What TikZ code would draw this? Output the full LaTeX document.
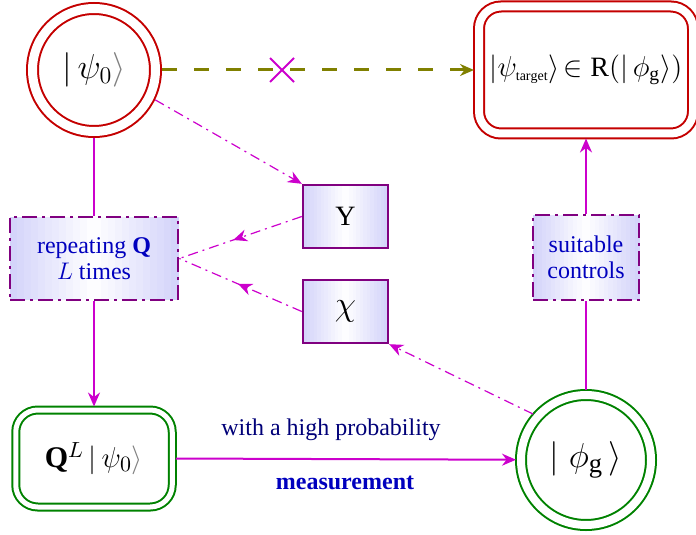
\documentclass[tikz,border=0pt]{standalone}
\usepackage{fontspec}
\setmainfont{Liberation Serif}
\usetikzlibrary{arrows.meta,shapes.misc,decorations.markings}
\definecolor{ringred}{RGB}{196,0,0}
\definecolor{ringgreen}{RGB}{0,130,0}
\definecolor{linemag}{RGB}{204,0,204}
\definecolor{boxpurple}{RGB}{128,0,128}
\definecolor{olivedash}{RGB}{128,128,0}
\definecolor{lavender}{RGB}{212,212,250}
\definecolor{textblue}{RGB}{0,0,190}
\definecolor{textnavy}{RGB}{0,0,120}
\newcommand\lavshade[4]{%
  \foreach \i in {0,...,23}{%
    \pgfmathsetmacro\mix{abs(\i-11.5)/11.5*100}%
    \fill[lavender!\mix!white] ({#1-#3/2+\i*#3/24},{#2-#4/2}) rectangle ++({1.2*#3/24},#4);}}
\begin{document}
\begin{tikzpicture}[x=0.5pt,y=0.5pt,font=\fontsize{12}{13}\selectfont,
  tip/.style={-{Stealth[length=7pt,width=6pt]}},
  midtip/.style={postaction={decorate},decoration={markings,mark=at position #1 with {\arrow{Stealth[length=7pt,width=6pt]}}}},
  ring/.style={circle,draw=#1,double,line width=1pt,inner sep=0pt},
  twobox/.style={rectangle,draw=#1,double,line width=1pt,rounded corners=11pt},
  vbox/.style={rectangle,draw=boxpurple,line width=1.2pt},
  ddbox/.style={rectangle,draw=boxpurple,line width=1.3pt,dash pattern=on 7.5pt off 2.5pt on 1.5pt off 2.5pt,align=center,text=textblue},
  magline/.style={draw=linemag,line width=1pt},
  ddot/.style={draw=linemag,line width=0.6pt,dash pattern=on 5pt off 2.5pt on 1pt off 2.5pt}]
  \useasboundingbox (0,0) rectangle (696,-535);
  \lavshade{345.5}{-216.5}{85}{63}
  \lavshade{345.5}{-311.5}{85}{63}
  \lavshade{94}{-258.5}{168}{83}
  \lavshade{586}{-257.5}{106}{85}
  \node[ring=ringred,double distance=4.5pt,outer sep=3.25pt,minimum size=61.5pt] (psi) at (94,-70)
    {\fontsize{17}{20}\selectfont $|\,\psi_0{\color{gray}\rangle}$};
  \node[twobox=ringred,double distance=4pt,outer sep=2.5pt,minimum width=107pt,minimum height=63.5pt] (target) at (586,-70)
    {\fontsize{14}{17}\selectfont $\bigl|\psi_{\scriptscriptstyle\mathrm{target}}\bigr\rangle\!\in\mathrm{R}(|\,\phi_{\mathrm{g}}\rangle)$};
  \node[vbox,minimum width=42.5pt,minimum height=31.5pt] (Y) at (345.5,-216.5) {\fontsize{14}{17}\selectfont Y};
  \node[vbox,minimum width=42.5pt,minimum height=31.5pt] (chi) at (345.5,-311.5) {\fontsize{18}{20}\selectfont $\chi$};
  \node[ddbox,minimum width=84pt,minimum height=41.5pt] (rep) at (94,-258.5) {repeating \textbf{Q}\\$L$ times};
  \node[ddbox,minimum width=53pt,minimum height=42.5pt] (ctrl) at (586,-257.5) {suitable\\controls};
  \node[twobox=ringgreen,double distance=2.5pt,outer sep=1.75pt,minimum width=78.25pt,minimum height=48.5pt] (QL) at (94,-458.5)
    {\fontsize{15}{18}\selectfont $\mathbf{Q}^{L}\,|\,\psi_0{\color{gray}\rangle}$};
  \node[ring=ringgreen,double distance=4pt,outer sep=2.5pt,minimum size=65pt] (phi) at (586,-460)
    {\fontsize{19}{22}\selectfont $|\;\phi_{\mathrm{g}}\,\rangle$};
  \node[text=textnavy] (prob) at (331,-430) {with a high probability};
  \node[text=textblue,font=\fontsize{12}{13}\bfseries] (meas) at (345,-483) {measurement};
  \draw[draw=olivedash,line width=1.5pt,dash pattern=on 7.5pt off 8.5pt,tip] (psi) -- (target);
  \node[cross out,draw=linemag,line width=1pt,minimum size=11pt,inner sep=0pt] (nope) at (282,-70) {};
  \draw[magline] (psi) -- (rep);
  \draw[magline,tip] (rep) -- (QL);
  \draw[magline,tip] (QL.east) -- (phi);
  \draw[magline] (phi) -- (ctrl);
  \draw[magline,tip] (ctrl) -- (target);
  \draw[ddot,tip] (psi.-26) -- (Y.north west);
  \draw[ddot,midtip=0.56] (Y.west) -- (rep.east);
  \draw[ddot,midtip=0.52] (chi.west) -- (rep.east);
  \draw[ddot,tip] (phi.139) -- (chi.south east);
\end{tikzpicture}
\end{document}
